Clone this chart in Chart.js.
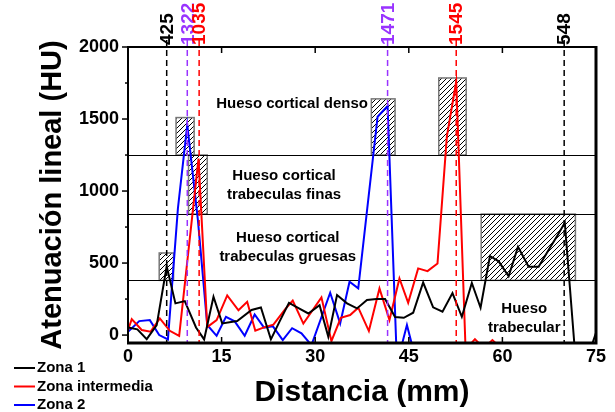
<!DOCTYPE html>
<html><head><meta charset="utf-8">
<script src="https://cdn.jsdelivr.net/npm/chart.js@4/dist/chart.umd.min.js"></script>
<style>html,body{margin:0;padding:0;background:#fff}</style>
</head><body>
<canvas id="c" width="615" height="412"></canvas>
<script>
// ---- data ----
const zona1X = [0, 1.5, 3.0, 4.6, 6.2, 7.6, 9.1, 10.9, 12.2, 13.7, 15.1, 17.5, 19.8, 21.3, 22.9, 24.3, 25.8, 27.4, 28.9, 30.7, 32.1, 33.5, 35.1, 36.7, 38.3, 39.8, 41.2, 42.8, 44.2, 45.7, 47.3, 48.9, 50.4, 52.0, 53.5, 55.1, 56.5, 58.0, 59.4, 61.0, 62.5, 64.2, 65.8, 67.4, 68.8, 70.0, 71.6, 73.3, 75];
const zona1Y = [53, 40, -28, 69, 478, 220, 236, 53, -30, 266, 81, 97, 174, 192, -30, 95, 224, 185, 150, 208, -12, 278, 220, 185, 243, 250, 250, 125, 120, 155, 365, 193, 162, 292, 127, 362, 190, 549, 512, 408, 613, 474, 474, 590, 690, 780, -100, -200, 15];

const zonaIntX = [0, 0.6, 2.2, 3.6, 5.1, 6.7, 8.2, 11.3, 12.7, 14.2, 15.9, 17.7, 19.1, 20.4, 21.9, 23.3, 25.2, 26.4, 28.1, 31.0, 32.6, 34.1, 35.6, 36.9, 38.6, 40.3, 41.9, 43.5, 44.9, 46.5, 48.0, 49.6, 51.1, 52.6, 54.1, 55.6, 57.0, 58.4, 60.0, 75];
const zonaIntY = [35, 111, 35, 23, 116, 30, -5, 1225, 55, 104, 275, 172, 231, 30, 55, 72, 180, 240, 80, 262, -42, 120, 139, 190, 28, 324, 104, 393, 224, 463, 444, 497, 1380, 1760, -100, -28, -90, -35, -100, -100];

const zona2X = [0, 1.8, 3.5, 5.0, 6.4, 8.0, 9.5, 11.2, 12.7, 14.2, 15.7, 17.1, 18.7, 20.3, 21.8, 23.2, 24.8, 26.3, 27.8, 29.4, 32.4, 34.0, 35.5, 36.9, 40.0, 41.6, 43.1, 44.7, 46.3, 75];
const zona2Y = [23, 97, 104, 0, -30, 880, 1460, 800, 70, -5, 127, 95, -5, 143, 52, 62, -35, 48, 12, -70, 294, 81, 370, 324, 1516, 1590, -200, 70, -200, -200];

const seriesNames = ['Zona 1', 'Zona intermedia', 'Zona 2'];

// axis tick values
const xTickValues = [0, 15, 30, 45, 60, 75];
const yTickValues = [0, 500, 1000, 1500, 2000];

// vertical marker lines and their labels
const markerX = [6.2, 9.5, 11.4, 41.6, 52.6, 69.9];
const markerLabels = ['425', '1322', '1035', '1471', '1545', '548'];

// hatched boxes (x range, HU range)
const boxX0 = [5.0, 7.7, 9.7, 39.0, 49.8, 56.6];
const boxX1 = [7.3, 10.6, 12.7, 42.8, 54.2, 71.7];
const boxY0 = [380, 1250, 840, 1250, 1250, 380];
const boxY1 = [570, 1510, 1250, 1640, 1785, 840];

// horizontal region limits (HU)
const regionLimits = [380, 840, 1250];

// region names
const regionText = [['Hueso cortical denso'], ['Hueso cortical', 'trabeculas finas'], ['Hueso cortical', 'trabeculas gruesas'], ['Hueso', 'trabecular']];
// ---- styles / positions ----
const FONT = '"Liberation Sans", Arial, sans-serif';
const seriesColors = ['#000000', '#ff0000', '#0000ff'];
const markerColors = ['#000000', '#9933ff', '#ff0000', '#9933ff', '#ff0000', '#000000'];
const regionPos = [[26.3, 1604], [25.0, 1104], [25.6, 674], [63.5, 180]];
const regionLineGap = 19;

function hatch(ctx) {
  const c = document.createElement('canvas'); c.width = 5; c.height = 5;
  const g = c.getContext('2d');
  g.fillStyle = '#fff'; g.fillRect(0, 0, 5, 5);
  g.strokeStyle = '#000'; g.lineWidth = 1;
  g.beginPath();
  g.moveTo(0, 5); g.lineTo(5, 0);
  g.moveTo(-1, 1); g.lineTo(1, -1);
  g.moveTo(4, 6); g.lineTo(6, 4);
  g.stroke();
  return ctx.createPattern(c, 'repeat');
}

const deco = {
  id: 'deco',
  beforeDatasetsDraw(chart) {
    const {ctx, chartArea: a, scales: {x, y}} = chart;
    ctx.save();
    const pat = hatch(ctx);
    for (let i = 0; i < boxX0.length; i++) {
      const l = x.getPixelForValue(boxX0[i]), r = x.getPixelForValue(boxX1[i]);
      const t = y.getPixelForValue(boxY1[i]), b = y.getPixelForValue(boxY0[i]);
      ctx.fillStyle = pat; ctx.fillRect(l, t, r - l, b - t);
      ctx.strokeStyle = '#777'; ctx.lineWidth = 1.5; ctx.strokeRect(l, t, r - l, b - t);
    }
    ctx.strokeStyle = '#000'; ctx.lineWidth = 1.2;
    regionLimits.forEach(v => {
      const py = Math.round(y.getPixelForValue(v)) + 0.5;
      ctx.beginPath(); ctx.moveTo(a.left, py); ctx.lineTo(a.right, py); ctx.stroke();
    });
    ctx.restore();
  },
  afterDatasetsDraw(chart) {
    const {ctx, chartArea: a, scales: {x, y}} = chart;
    ctx.save();
    // dashed markers + labels
    markerX.forEach((v, i) => {
      const px = x.getPixelForValue(v);
      ctx.strokeStyle = markerColors[i]; ctx.lineWidth = 1.5; ctx.setLineDash([6, 4]);
      ctx.beginPath(); ctx.moveTo(px, 40); ctx.lineTo(px, a.bottom); ctx.stroke();
      ctx.setLineDash([]);
      ctx.save();
      ctx.translate(px, 45); ctx.rotate(-Math.PI / 2);
      ctx.fillStyle = markerColors[i]; ctx.font = 'bold 19px ' + FONT;
      ctx.textAlign = 'left'; ctx.textBaseline = 'middle';
      ctx.fillText(markerLabels[i], 0, 1);
      ctx.restore();
    });
    // region text
    ctx.fillStyle = '#000'; ctx.font = 'bold 15px ' + FONT; ctx.textAlign = 'center'; ctx.textBaseline = 'middle';
    regionText.forEach((lines, i) => {
      const px = x.getPixelForValue(regionPos[i][0]), py = y.getPixelForValue(regionPos[i][1]);
      lines.forEach((s, k) => ctx.fillText(s, px, py + k * regionLineGap));
    });
    // frame
    ctx.strokeStyle = '#000';
    ctx.lineWidth = 2;
    ctx.beginPath(); ctx.moveTo(a.left, a.bottom); ctx.lineTo(a.left, a.top); ctx.lineTo(a.right, a.top); ctx.stroke();
    ctx.lineWidth = 3;
    ctx.beginPath(); ctx.moveTo(a.left - 1, a.bottom); ctx.lineTo(a.right, a.bottom); ctx.lineTo(a.right, a.top - 1); ctx.stroke();
    // ticks
    ctx.lineWidth = 1.5;
    for (let v = 0; v <= 2000; v += 250) {
      const py = y.getPixelForValue(v), len = v % 500 === 0 ? 6 : 3;
      ctx.beginPath(); ctx.moveTo(a.left - len, py); ctx.lineTo(a.left, py); ctx.stroke();
    }
    for (let v = 15; v < 75; v += 15) {
      const px = x.getPixelForValue(v);
      ctx.beginPath(); ctx.moveTo(px, a.bottom); ctx.lineTo(px, a.bottom - 6); ctx.stroke();
      ctx.beginPath(); ctx.moveTo(px, a.top); ctx.lineTo(px, a.top + 6); ctx.stroke();
    }
    // legend
    ctx.font = 'bold 15px ' + FONT; ctx.textAlign = 'left'; ctx.textBaseline = 'middle';
    chart.data.datasets.forEach((d, i) => {
      const ly = 368 + i * 18.5;
      ctx.strokeStyle = d.borderColor; ctx.lineWidth = 2;
      ctx.beginPath(); ctx.moveTo(14, ly); ctx.lineTo(35, ly); ctx.stroke();
      ctx.fillStyle = '#000'; ctx.fillText(d.label, 37, ly);
    });
    ctx.restore();
  }
};

const toPts = (xs, ys) => xs.map((v, i) => ({x: v, y: ys[i]}));
const xsAll = [zona1X, zonaIntX, zona2X], ysAll = [zona1Y, zonaIntY, zona2Y];

new Chart(document.getElementById('c'), {
  type: 'line',
  data: {
    datasets: seriesNames.map((n, i) => ({
      label: n, data: toPts(xsAll[i], ysAll[i]),
      borderColor: seriesColors[i], backgroundColor: seriesColors[i],
      borderWidth: 2, pointRadius: 0, tension: 0, fill: false
    }))
  },
  options: {
    responsive: false, animation: false, devicePixelRatio: 1,
    layout: {padding: {top: 47, right: 19, left: 0, bottom: 0}},
    plugins: {legend: {display: false}, tooltip: {enabled: false}},
    scales: {
      x: {
        type: 'linear', min: 0, max: 75,
        afterBuildTicks(s) { s.ticks = xTickValues.map(v => ({value: v})); },
        ticks: {autoSkip: false, maxRotation: 0, padding: 3, color: '#000', font: {family: FONT, size: 18, weight: 'bold'}, callback: v => String(v)},
        grid: {display: false, drawTicks: false}, border: {display: false},
        title: {display: true, text: 'Distancia (mm)', color: '#000', font: {family: FONT, size: 30, weight: 'bold'}, padding: {top: 0, bottom: 1}},
        afterFit(s) { s.height = 69; }
      },
      y: {
        type: 'linear', min: -55, max: 2000,
        afterBuildTicks(s) { s.ticks = yTickValues.map(v => ({value: v})); },
        ticks: {autoSkip: false, padding: 9, color: '#000', font: {family: FONT, size: 18, weight: 'bold'}, callback: v => String(v)},
        grid: {display: false, drawTicks: false}, border: {display: false},
        title: {display: true, text: 'Atenuación lineal (HU)', color: '#000', font: {family: FONT, size: 29, weight: 'bold'}, padding: {top: 36, bottom: 0}},
        afterFit(s) { s.width = 128; }
      }
    }
  },
  plugins: [deco]
});
</script>
</body></html>
